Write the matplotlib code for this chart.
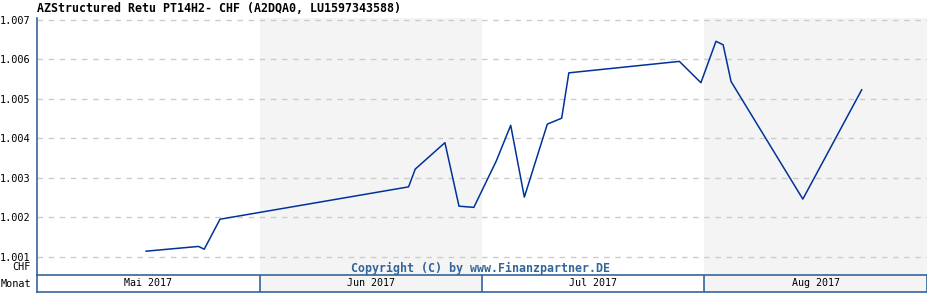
import numpy as np
import matplotlib
matplotlib.use('Agg')
import matplotlib.pyplot as plt

# chart data
title = 'AZStructured Retu PT14H2- CHF (A2DQA0, LU1597343588)'
months = ['Mai 2017', 'Jun 2017', 'Jul 2017', 'Aug 2017']
month_days = [31, 30, 31, 31]
# month index and (fractional) day of the month for each quote
obs_month = [0, 0, 0, 0, 1, 1, 1, 1, 1, 2, 2, 2, 2, 2, 2, 2, 2, 3, 3, 3, 3, 3]
obs_day = [16.2, 23.5, 24.3, 26.5, 21.1, 22.0, 26.0, 27.9, 29.9,
           3.0, 5.0, 6.9, 10.1, 12.1, 13.1, 28.5, 31.5,
           2.6, 3.6, 4.7, 14.7, 22.9]
price = [1.00114, 1.00126, 1.00119, 1.00195, 1.00277, 1.00322, 1.00389,
         1.00228, 1.00225, 1.00343, 1.00433, 1.00251, 1.00436, 1.00451,
         1.00566, 1.00595, 1.00541, 1.00646, 1.00637, 1.00544, 1.00246,
         1.00523]
yticks = [1.001, 1.002, 1.003, 1.004, 1.005, 1.006, 1.007]

blue = '#336699'
line_col = '#003399'
shade = '#f4f4f4'
mono = 'DejaVu Sans Mono'

# position on a month axis (each month same width)
x = [m + (d - 1) / month_days[m] for m, d in zip(obs_month, obs_day)]

fig = plt.figure(figsize=(9.28, 3.0), dpi=100)

##==============================================
# main plot
##==============================================
ax = fig.add_axes([37/928, 25/300, 890/928, 257/300])
ax.set_xlim(0, len(months))
ax.set_ylim(1.000536, 1.00705)
for i in range(1, len(months), 2):
    ax.axvspan(i, i + 1, color=shade, lw=0, zorder=0)
for yv in yticks:
    ax.axhline(yv, color='#cccccc', lw=1, ls=(0, (4, 4)), zorder=1)
ax.plot(x, price, color=line_col, lw=1.1, zorder=3)

ax.set_xticks([])
ax.set_yticks(yticks)
ax.set_yticklabels(['%.3f' % v for v in yticks], family=mono, fontsize=7.4)
ax.tick_params(axis='y', length=0, pad=5)
for s in ['top', 'right', 'bottom']:
    ax.spines[s].set_visible(False)
ax.spines['left'].set_color(blue)
ax.spines['left'].set_linewidth(1.2)
ax.patch.set_alpha(0)

##==============================================
# month bar
##==============================================
axm = fig.add_axes([37/928, 8/300, 890/928, 17/300])
axm.set_xlim(0, len(months))
axm.set_ylim(0, 1)
for i, lab in enumerate(months):
    if i % 2 == 1:
        axm.axvspan(i, i + 1, color=shade, lw=0, zorder=0)
    if i > 0:
        axm.axvline(i, color=blue, lw=1.2)
    axm.text(i + 0.5, 0.5, lab, ha='center', va='center', family=mono, fontsize=7.2)
axm.set_xticks([])
axm.set_yticks([])
for s in axm.spines.values():
    s.set_color(blue)
    s.set_linewidth(1.2)

##==============================================
# texts
##==============================================
fig.text(37/928, (300 - 8)/300, title, family=mono, weight='bold', fontsize=8.4,
         va='center', ha='left')
fig.text(31/928, (300 - 267)/300, 'CHF', family=mono, fontsize=7.4, ha='right', va='center')
fig.text(31/928, (300 - 284)/300, 'Monat', family=mono, fontsize=7.4, ha='right', va='center')
fig.text(481/928, (300 - 268)/300, 'Copyright (C) by www.Finanzpartner.DE', family=mono,
         weight='bold', fontsize=8.4, color=blue, ha='center', va='center')

plt.savefig('out.png', dpi=100)
